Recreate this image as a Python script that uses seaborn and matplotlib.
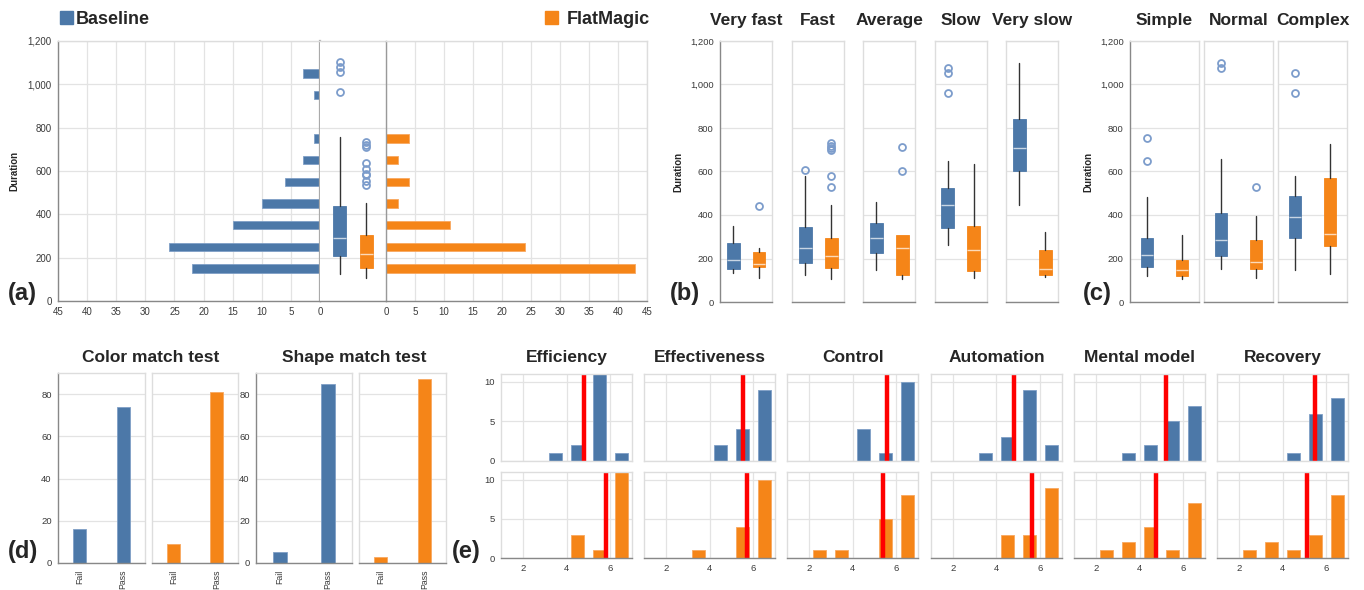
import numpy as np
import pandas as pd
import seaborn as sns
import matplotlib.pyplot as plt
from matplotlib import font_manager
from matplotlib.patches import Rectangle
from matplotlib.ticker import StrMethodFormatter

# ==============================
# DATA
# ==============================
BLUE = "#4c78a8"
ORANGE = "#f58518"
FLIER = "#7c9ccb"

# (a) duration histogram (bin centres) + overall boxes
dur_bins_base = [150, 250, 350, 450, 550, 650, 750, 950, 1050]
dur_count_base = [22, 26, 15, 10, 6, 3, 1, 1, 3]
dur_bins_flat = [150, 250, 350, 450, 550, 650, 750]
dur_count_flat = [43, 24, 11, 2, 4, 2, 4]

# box stats: low whisker, q1, median, q3, high whisker
box_all_base = [126, 207, 292, 438, 757]
box_all_flat = [108, 154, 215, 303, 450]
out_all_base = [1104, 1081, 1056, 965]
out_all_flat = [733, 722, 711, 637, 607, 584, 581, 553, 535]

# (b) by speed
speed_cats = ["Very fast", "Fast", "Average", "Slow", "Very slow"]
speed_base = [[134, 152, 195, 272, 350], [123, 181, 247, 347, 581],
              [149, 223, 295, 361, 461], [264, 338, 445, 522, 650],
              [445, 604, 707, 840, 1101]]
speed_flat = [[112, 160, 177, 230, 247], [108, 157, 212, 296, 445],
              [108, 123, 250, 310, 310], [112, 141, 241, 350, 634],
              [115, 123, 150, 237, 323]]
speed_out_base = [[], [607], [], [1078, 1054, 963], []]
speed_out_flat = [[441], [730, 719, 710, 699, 579, 530], [711, 602], [], []]

# (c) by complexity
cx_cats = ["Simple", "Normal", "Complex"]
cx_base = [[121, 161, 215, 296, 484], [152, 212, 284, 407, 656],
           [149, 295, 392, 487, 581]]
cx_flat = [[106, 118, 149, 194, 310], [111, 154, 186, 283, 396],
           [127, 258, 312, 568, 727]]
cx_out_base = [[756, 650], [1101, 1078], [1054, 963]]
cx_out_flat = [[], [531], []]

# (d) match tests
tests = ["Color match test", "Shape match test"]
outcomes = ["Fail", "Pass"]
test_base = [[16, 74], [5, 85]]
test_flat = [[9, 81], [3, 87]]

# (e) likert
likert_cats = ["Efficiency", "Effectiveness", "Control", "Automation",
               "Mental model", "Recovery"]
likert_bins = [2.5, 3.5, 4.5, 5.5, 6.5]
likert_base = [[0, 1, 2, 11, 1], [0, 0, 2, 4, 9], [0, 0, 4, 1, 10],
               [0, 1, 3, 9, 2], [0, 1, 2, 5, 7], [0, 0, 1, 6, 8]]
likert_flat = [[0, 0, 3, 1, 11], [0, 1, 0, 4, 10], [1, 1, 0, 5, 8],
               [0, 0, 3, 3, 9], [1, 2, 4, 1, 7], [1, 2, 1, 3, 8]]
mean_base = [4.78, 5.52, 5.58, 4.78, 5.23, 5.49]
mean_flat = [5.79, 5.72, 5.38, 5.63, 4.77, 5.11]

# ==============================
# STYLE
# ==============================
sns.set_style("white")
names = {f.name for f in font_manager.fontManager.ttflist}
BASE_FONT = "Liberation Sans" if "Liberation Sans" in names else "DejaVu Sans"
if "Liberation Sans Narrow" in names:
    TITLE_FONT, TSIZE = "Liberation Sans Narrow", 15
else:
    TITLE_FONT, TSIZE = BASE_FONT, 12.5
plt.rcParams["font.family"] = [BASE_FONT, "DejaVu Sans"]

W, H = 1364, 590
fig = plt.figure(figsize=(W / 100, H / 100), dpi=100)


def add_ax(x0, y0, x1, y1):
    return fig.add_axes([x0 / W, 1 - y1 / H, (x1 - x0) / W, (y1 - y0) / H])


def style(ax, dark=("left", "bottom"), size=6.8):
    for name, s in ax.spines.items():
        s.set_color("#888888" if name in dark else "#dddddd")
        s.set_linewidth(1)
    ax.grid(axis="y", color="#e3e3e3", lw=0.9)
    ax.set_axisbelow(True)
    ax.tick_params(labelsize=size, colors="#888888", labelcolor="#3a3a3a",
                   length=3, width=0.8, pad=1.5)
    ax.set_xlabel("")
    ax.set_ylabel("")


def draw_box(ax, pos, st, fliers, color, width):
    lo, q1, med, q3, hi = st
    ax.bxp([dict(whislo=lo, q1=q1, med=med, q3=q3, whishi=hi, fliers=fliers)],
           positions=[pos], widths=width, patch_artist=True, showcaps=False,
           manage_ticks=False,
           boxprops=dict(facecolor=color, edgecolor=color, lw=0.6),
           medianprops=dict(color="white", lw=1, alpha=0.7),
           whiskerprops=dict(color="#333333", lw=1),
           flierprops=dict(marker="o", markerfacecolor="none",
                           markeredgecolor=FLIER, markersize=5,
                           markeredgewidth=1.3))


def title_text(x, y, s):
    fig.text(x / W, 1 - y / H, s, ha="center", va="baseline",
             fontsize=TSIZE, fontweight="bold", family=[TITLE_FONT, "DejaVu Sans"])


def letter(x, y, s):
    fig.text(x / W, 1 - y / H, s, ha="left", va="baseline",
             fontsize=17, fontweight="bold")


dur_ticks = list(range(0, 1201, 200))
fmt = StrMethodFormatter("{x:,.0f}")

# ==============================
# (a) HISTOGRAM + BOXES
# ==============================
ax_l = add_ax(58, 41, 320, 301)
sns.barplot(x=dur_count_base, y=dur_bins_base, orient="y", native_scale=True,
            width=0.38, color=BLUE, saturation=1, errorbar=None,
            edgecolor="#7f9fc6", linewidth=0.6, ax=ax_l)
style(ax_l, dark=("left", "bottom", "right"), size=7)
ax_l.spines["right"].set_color("#aaaaaa")
ax_l.spines["right"].set_linewidth(1.6)
ax_l.set_xlim(45, 0)
ax_l.set_ylim(0, 1200)
ax_l.set_xticks(range(0, 46, 5))
ax_l.set_yticks(dur_ticks)
ax_l.yaxis.set_major_formatter(fmt)
ax_l.grid(axis="x", color="#e3e3e3", lw=0.9)
ax_l.set_ylabel("Duration", fontsize=7, fontweight="bold", labelpad=6)

ax_m = add_ax(320, 41, 386, 301)
draw_box(ax_m, 0, box_all_base, out_all_base, BLUE, 0.5)
draw_box(ax_m, 1, box_all_flat, out_all_flat, ORANGE, 0.5)
style(ax_m, dark=("bottom",), size=7)
ax_m.spines["left"].set_visible(False)
ax_m.spines["right"].set_visible(False)
ax_m.set_xlim(-0.75, 1.75)
ax_m.set_ylim(0, 1200)
ax_m.set_xticks([0, 1])
ax_m.set_xticklabels([])
ax_m.set_yticks(dur_ticks)
ax_m.tick_params(axis="y", length=0, labelleft=False)
ax_m.tick_params(axis="x", colors="#bbbbbb")

ax_r = add_ax(386, 41, 647, 301)
sns.barplot(x=dur_count_flat, y=dur_bins_flat, orient="y", native_scale=True,
            width=0.38, color=ORANGE, saturation=1, errorbar=None,
            edgecolor="#f8a860", linewidth=0.6, ax=ax_r)
style(ax_r, size=7)
ax_r.spines["left"].set_color("#999999")
ax_r.set_xlim(0, 45)
ax_r.set_ylim(0, 1200)
ax_r.set_xticks(range(0, 46, 5))
ax_r.set_yticks(dur_ticks)
ax_r.tick_params(axis="y", length=0, labelleft=False)
ax_r.grid(axis="x", color="#e3e3e3", lw=0.9)

# legend
fig.add_artist(Rectangle((60 / W, 1 - 24 / H), 13 / W, 13 / H,
                         transform=fig.transFigure, color=BLUE))
fig.text(76 / W, 1 - 24 / H, "Baseline", fontsize=TSIZE + 0.5, fontweight="bold",
         va="baseline", family=[TITLE_FONT, "DejaVu Sans"])
fig.add_artist(Rectangle((545 / W, 1 - 24 / H), 13 / W, 13 / H,
                         transform=fig.transFigure, color=ORANGE))
fig.text(567 / W, 1 - 24 / H, "FlatMagic", fontsize=TSIZE + 0.5, fontweight="bold",
         va="baseline", family=[TITLE_FONT, "DejaVu Sans"])


# ==============================
# (b) + (c) BOX FACETS
# ==============================
def box_facets(cats, base, flat, out_b, out_f, lefts, width, bw):
    for i, cat in enumerate(cats):
        ax = add_ax(lefts[i], 41, lefts[i] + width, 302)
        draw_box(ax, 0, base[i], out_b[i], BLUE, bw)
        draw_box(ax, 1, flat[i], out_f[i], ORANGE, bw)
        style(ax, dark=("left", "bottom") if i == 0 else ("bottom",))
        ax.set_xlim(-0.5, 1.5)
        ax.set_ylim(0, 1200)
        ax.set_xticks([0, 1])
        ax.set_xticklabels([])
        ax.set_yticks(dur_ticks)
        ax.yaxis.set_major_formatter(fmt)
        if i == 0:
            ax.set_ylabel("Duration", fontsize=7, fontweight="bold", labelpad=5)
        else:
            ax.tick_params(axis="y", length=0, labelleft=False)
        title_text(lefts[i] + width / 2, 25, cat)


box_facets(speed_cats, speed_base, speed_flat, speed_out_base, speed_out_flat,
           [720, 792, 863, 935, 1006], 52, 0.5)
box_facets(cx_cats, cx_base, cx_flat, cx_out_base, cx_out_flat,
           [1130, 1204, 1278], 69, 0.36)

# ==============================
# (d) MATCH TESTS
# ==============================
test_lefts = [[58, 152], [256, 359]]
test_widths = [[87, 86], [96, 87]]
for t, name in enumerate(tests):
    for j, (vals, col, edge) in enumerate([(test_base[t], BLUE, "#7f9fc6"),
                                            (test_flat[t], ORANGE, "#f8a860")]):
        x0 = test_lefts[t][j]
        ax = add_ax(x0, 373, x0 + test_widths[t][j], 563)
        sns.barplot(x=outcomes, y=vals, width=0.3, color=col, saturation=1,
                    errorbar=None, edgecolor=edge, linewidth=0.6, ax=ax)
        style(ax, dark=("left", "bottom") if j == 0 else ("bottom",))
        ax.set_xlim(-0.5, 1.5)
        ax.set_ylim(0, 90)
        ax.set_yticks(range(0, 81, 20))
        ax.tick_params(axis="x", labelrotation=90, labelsize=6.3)
        if j == 1:
            ax.tick_params(axis="y", length=0, labelleft=False)
    title_text((test_lefts[t][0] + test_lefts[t][1] + test_widths[t][1]) / 2 + 3,
               362, name)

# ==============================
# (e) LIKERT HISTOGRAMS
# ==============================
col_lefts = [501, 644, 787, 931, 1074, 1217]
rows = [(374, 461), (472, 558)]
for c, cat in enumerate(likert_cats):
    for r, (counts, means, col, edge) in enumerate(
            [(likert_base, mean_base, BLUE, "#7f9fc6"),
             (likert_flat, mean_flat, ORANGE, "#f8a860")]):
        df = pd.DataFrame({"score": likert_bins, "n": counts[c]})
        df = df[df["n"] > 0]
        ax = add_ax(col_lefts[c], rows[r][0], col_lefts[c] + 131, rows[r][1])
        sns.barplot(data=df, x="score", y="n", native_scale=True, width=0.6,
                    color=col, saturation=1, errorbar=None, edgecolor=edge,
                    linewidth=0.6, ax=ax)
        ax.axvline(means[c], color="#ff0000", lw=3.2)
        style(ax, dark=("bottom",) if r == 1 else ())
        ax.grid(axis="x", color="#e3e3e3", lw=0.9)
        ax.set_xlim(1, 7)
        ax.set_ylim(0, 11)
        ax.set_xticks([2, 4, 6])
        ax.set_yticks([0, 5, 10])
        if r == 0:
            ax.tick_params(axis="x", length=0, labelbottom=False)
        if c != 0:
            ax.tick_params(axis="y", length=0, labelleft=False)
    title_text(col_lefts[c] + 66, 362, cat)

# panel letters
letter(8, 300, "(a)")
letter(670, 300, "(b)")
letter(1083, 300, "(c)")
letter(8, 558, "(d)")
letter(452, 558, "(e)")

fig.savefig("out.png", dpi=100)
